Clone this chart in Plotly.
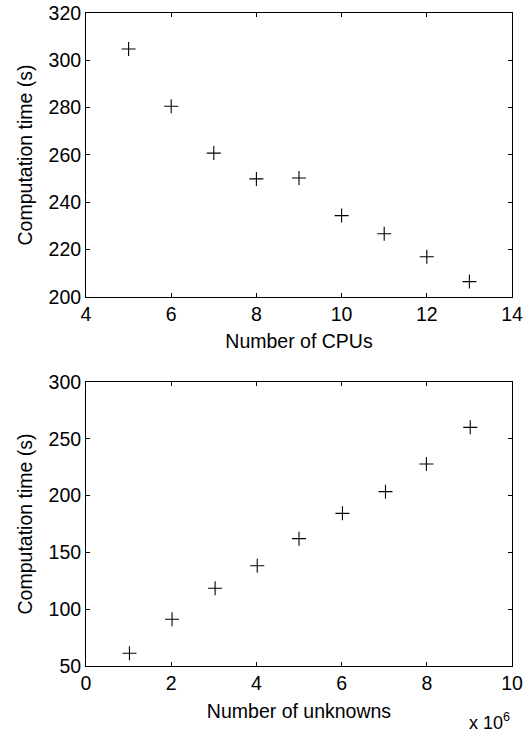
import plotly.graph_objects as go

# Top chart: computation time vs number of CPUs
cpus = [5, 6, 7, 8, 9, 10, 11, 12, 13]
time_cpus = [304.8, 280.6, 260.8, 249.9, 250.3, 234.4, 226.7, 217.0, 206.5]

# Bottom chart: computation time vs number of unknowns
unknowns = [1.02e6, 2.02e6, 3.03e6, 4.02e6, 5.0e6, 6.02e6, 7.03e6, 7.99e6, 9.02e6]
time_unknowns = [61.2, 91.1, 118.4, 138.3, 162.1, 184.4, 203.5, 227.8, 260.1]

top_xticks = [4, 6, 8, 10, 12, 14]
top_yticks = [200, 220, 240, 260, 280, 300, 320]
bot_xticks = [0, 2e6, 4e6, 6e6, 8e6, 10e6]
bot_xticklabels = ["0", "2", "4", "6", "8", "10"]
bot_yticks = [50, 100, 150, 200, 250, 300]

FONT = "Liberation Sans, Arial, Helvetica, sans-serif"
marker = dict(symbol="cross-thin", size=10, line=dict(color="black", width=1.1), color="black")

fig = go.Figure()
fig.add_trace(go.Scatter(x=cpus, y=time_cpus, mode="markers", marker=marker,
                         xaxis="x", yaxis="y", showlegend=False, hoverinfo="skip"))
fig.add_trace(go.Scatter(x=unknowns, y=time_unknowns, mode="markers", marker=marker,
                         xaxis="x2", yaxis="y2", showlegend=False, hoverinfo="skip"))

axis_common = dict(showline=True, linecolor="black", linewidth=1, mirror="ticks",
                   ticks="inside", ticklen=4, tickcolor="black", tickwidth=1,
                   showgrid=False, zeroline=False, automargin=False,
                   tickfont=dict(family=FONT, size=19.5, color="black"),
                   title_font=dict(family=FONT, size=19.5, color="black"))

fig.update_layout(
    width=523, height=736,
    paper_bgcolor="white", plot_bgcolor="white",
    margin=dict(l=86, r=11, t=13, b=70),
    font=dict(family=FONT, size=19.5, color="black"),
    xaxis=dict(domain=[0, 1], anchor="y", range=[4, 14], tickvals=top_xticks,
               title=dict(text="Number of CPUs", standoff=9), **axis_common),
    yaxis=dict(domain=[0.5651, 1], anchor="x", range=[200, 320], tickvals=top_yticks,
               title=dict(text="Computation time (s)", standoff=10), **axis_common),
    xaxis2=dict(domain=[0, 1], anchor="y2", range=[0, 10e6], tickvals=bot_xticks,
                ticktext=bot_xticklabels,
                title=dict(text="Number of unknowns", standoff=10), **axis_common),
    yaxis2=dict(domain=[0, 0.4349], anchor="x2", range=[50, 300], tickvals=bot_yticks,
                title=dict(text="Computation time (s)", standoff=10), **axis_common),
    annotations=[dict(text="x 10<sup>6</sup>", xref="paper", yref="paper", x=1.0, y=-0.106,
                      xanchor="right", yanchor="bottom", showarrow=False,
                      font=dict(family=FONT, size=18, color="black"))],
)

fig.write_html("out.html", config={"displayModeBar": False},
               post_script="document.body.style.margin='0';")
